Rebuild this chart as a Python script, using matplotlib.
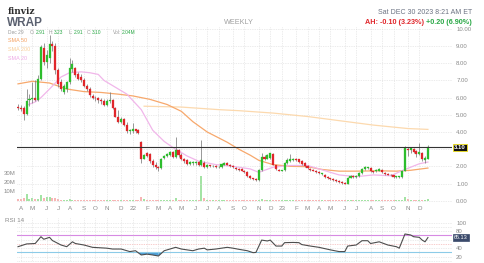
import numpy as np
import pandas as pd
import matplotlib
matplotlib.use("Agg")
import matplotlib.pyplot as plt

plt.rcParams["font.family"] = ["Liberation Sans", "DejaVu Sans"]

# weekly candles, first week starts 2021-03-29
start_week = "2021-03-29"
opens = [5.45, 5.4, 5.4, 5.05, 5.85, 5.9, 5.95, 5.85, 7.1, 8.9, 8.1, 8.3, 9.1, 9.0, 7.6, 6.9,
         6.35, 6.5, 6.9, 7.65, 7.7, 7.4, 7.2, 7.05, 6.7, 6.5, 6.1, 6.0, 5.95, 5.85, 5.8, 5.55,
         5.8, 5.85, 5.4, 4.9, 4.6, 4.75, 4.4, 4.05, 4.05, 4.15, 4.1, 3.4, 2.45, 2.75, 2.7, 2.3,
         2.1, 1.95, 1.9, 2.5, 2.6, 2.65, 2.85, 2.55, 2.95, 2.65, 2.45, 2.35, 2.15, 2.2, 2.2, 2.25,
         2.05, 2.2, 1.95, 2.05, 2.0, 2.0, 1.95, 1.95, 2.1, 2.2, 2.1, 2.0, 1.9, 1.85, 1.85, 1.75,
         1.65, 1.45, 1.3, 1.25, 1.2, 1.8, 2.55, 2.45, 2.5, 2.7, 2.05, 1.8, 1.75, 1.8, 2.2, 2.3,
         2.35, 2.45, 2.4, 2.3, 2.2, 2.0, 1.85, 1.8, 1.75, 1.65, 1.55, 1.5, 1.4, 1.3, 1.25, 1.2,
         1.15, 1.08, 1.05, 1.0, 1.35, 1.45, 1.4, 1.45, 1.6, 1.85, 1.9, 1.9, 1.7, 1.7, 1.75, 1.8,
         1.62, 1.55, 1.5, 1.48, 1.38, 1.4, 1.38, 1.75, 3.0, 2.95, 3.0, 2.9, 2.7, 2.8, 2.35, 2.45]
highs = [5.6, 5.55, 5.5, 6.5, 6.2, 6.9, 7.0, 7.3, 9.05, 9.2, 8.8, 9.65, 9.3, 9.2, 7.7, 7.1,
         6.8, 6.95, 8.3, 8.2, 7.8, 7.5, 7.35, 7.15, 6.8, 6.6, 6.2, 6.1, 6.05, 5.95, 5.9, 5.9,
         6.3, 5.9, 5.45, 5.3, 4.85, 4.8, 4.6, 4.2, 4.5, 4.2, 4.15, 3.45, 2.7, 2.85, 2.75, 2.4,
         2.25, 2.0, 2.5, 2.65, 2.8, 2.9, 2.9, 3.7, 3.0, 2.75, 2.5, 2.4, 2.3, 2.3, 2.3, 2.3,
         3.55, 2.3, 2.15, 2.1, 2.05, 2.05, 2.0, 2.2, 2.25, 2.25, 2.15, 2.05, 1.95, 1.9, 1.9, 1.8,
         1.7, 1.5, 1.35, 1.3, 1.85, 2.75, 2.65, 2.7, 2.8, 2.75, 2.1, 1.85, 1.8, 2.25, 2.5, 2.7,
         2.5, 2.5, 2.45, 2.35, 2.25, 2.05, 1.9, 1.85, 1.8, 1.7, 1.6, 1.55, 1.45, 1.35, 1.3, 1.25,
         1.2, 1.12, 1.1, 1.4, 1.5, 1.5, 1.5, 1.65, 1.9, 2.0, 1.95, 1.95, 1.75, 1.85, 1.9, 1.85,
         1.68, 1.6, 1.55, 1.5, 1.45, 1.45, 1.8, 3.2, 3.15, 3.1, 3.05, 2.95, 3.38, 2.85, 2.6, 3.23]
lows = [5.3, 5.2, 4.7, 5.0, 5.5, 5.7, 5.8, 5.8, 7.0, 7.9, 7.7, 8.0, 8.7, 7.4, 6.6, 6.4,
        6.2, 6.3, 6.8, 7.5, 7.2, 7.0, 6.9, 6.6, 6.4, 6.05, 5.9, 5.8, 5.7, 5.6, 5.5, 5.5,
        5.7, 5.35, 4.85, 4.5, 4.55, 4.35, 3.95, 3.9, 3.95, 3.95, 3.9, 2.2, 2.4, 2.55, 2.2, 1.95,
        1.85, 1.7, 1.85, 2.45, 2.55, 2.6, 2.5, 2.5, 2.55, 2.35, 2.2, 2.05, 2.05, 2.1, 2.1, 2.0,
        2.0, 1.9, 1.9, 1.95, 1.95, 1.9, 1.9, 1.9, 2.05, 2.05, 1.95, 1.9, 1.8, 1.75, 1.7, 1.6,
        1.4, 1.25, 1.2, 1.15, 1.15, 1.75, 2.35, 2.4, 2.45, 2.05, 1.8, 1.7, 1.7, 1.75, 2.15, 2.25,
        2.3, 2.3, 2.2, 2.1, 1.95, 1.85, 1.75, 1.7, 1.6, 1.55, 1.5, 1.35, 1.25, 1.2, 1.15, 1.1,
        1.05, 1.0, 0.97, 0.97, 1.3, 1.35, 1.35, 1.4, 1.55, 1.8, 1.85, 1.65, 1.6, 1.65, 1.7, 1.6,
        1.5, 1.48, 1.42, 1.35, 1.32, 1.33, 1.35, 1.7, 2.6, 2.75, 2.8, 2.55, 2.65, 2.3, 2.2, 2.4]
closes = [5.4, 5.35, 5.05, 5.8, 5.9, 5.95, 5.85, 7.1, 8.95, 8.1, 8.5, 9.1, 9.0, 7.6, 6.8, 6.5,
          6.7, 6.9, 7.75, 7.95, 7.3, 7.1, 7.0, 6.7, 6.5, 6.15, 6.0, 5.95, 5.85, 5.8, 5.55, 5.8,
          5.85, 5.4, 4.9, 4.6, 4.75, 4.4, 4.05, 4.1, 4.15, 4.05, 3.95, 2.4, 2.65, 2.6, 2.3, 2.05,
          1.95, 1.9, 2.45, 2.6, 2.7, 2.85, 2.55, 2.95, 2.65, 2.45, 2.3, 2.15, 2.25, 2.2, 2.25, 2.1,
          2.35, 1.95, 2.05, 2.0, 2.0, 1.95, 1.95, 2.15, 2.2, 2.1, 2.0, 1.95, 1.85, 1.8, 1.75, 1.65,
          1.45, 1.3, 1.25, 1.2, 1.8, 2.55, 2.4, 2.65, 2.75, 2.1, 1.85, 1.75, 1.75, 2.2, 2.35, 2.4,
          2.45, 2.35, 2.25, 2.15, 2.0, 1.9, 1.8, 1.75, 1.65, 1.6, 1.55, 1.4, 1.3, 1.25, 1.2, 1.15,
          1.08, 1.05, 1.0, 1.35, 1.45, 1.4, 1.42, 1.6, 1.85, 1.95, 1.9, 1.7, 1.65, 1.8, 1.85, 1.65,
          1.58, 1.52, 1.48, 1.38, 1.4, 1.42, 1.75, 3.05, 2.95, 3.05, 2.85, 2.7, 2.85, 2.4, 2.5, 3.1]
volume_m = [1.5, 2.0, 2.5, 7.0, 2.0, 3.0, 1.5, 2.0, 6.0, 3.0, 4.0, 4.5, 3.0, 2.5, 1.5, 1.2,
            1.0, 1.0, 1.5, 1.2, 0.9, 0.8, 0.8, 0.9, 0.8, 0.7, 0.6, 0.6, 0.6, 0.5, 0.6, 0.6,
            0.7, 0.8, 0.9, 1.0, 0.8, 1.0, 1.2, 0.7, 0.8, 0.6, 0.7, 4.0, 1.5, 1.0, 1.0, 1.2,
            1.0, 1.0, 1.2, 0.8, 0.7, 0.8, 0.9, 3.0, 1.2, 1.0, 0.9, 0.8, 0.7, 0.6, 0.6, 0.7,
            27.0, 2.5, 1.0, 0.6, 0.5, 0.5, 0.5, 0.8, 0.7, 0.6, 0.5, 0.5, 0.5, 0.5, 0.6, 0.6,
            0.8, 0.8, 0.6, 0.6, 1.2, 1.5, 0.8, 0.7, 0.8, 0.9, 0.7, 0.5, 0.5, 0.8, 0.7, 0.8,
            0.6, 0.5, 0.5, 0.5, 0.6, 0.5, 0.5, 0.5, 0.5, 0.4, 0.4, 0.5, 0.5, 0.4, 0.4, 0.4,
            0.5, 0.4, 0.5, 0.9, 0.7, 0.5, 0.5, 0.6, 0.8, 0.7, 0.5, 0.5, 0.4, 0.5, 0.5, 0.5,
            0.4, 0.4, 0.4, 0.5, 0.4, 0.5, 1.0, 4.0, 2.0, 1.2, 1.0, 1.2, 1.0, 1.0, 0.8, 2.0]

# moving averages read at selected weeks
sma50_wk = [0, 5, 11, 17, 23, 29, 35, 40, 46, 52, 57, 61, 66, 73, 77, 81, 84, 89, 95, 101,
            106, 112, 118, 126, 132, 137, 143]
sma50 = [6.8, 6.95, 6.85, 6.5, 6.35, 6.3, 6.2, 6.1, 5.9, 5.6, 5.2, 4.6, 4.0, 3.4, 3.0, 2.65,
         2.35, 2.1, 2.0, 1.98, 1.82, 1.72, 1.72, 1.74, 1.72, 1.77, 1.9]
sma20_wk = [3, 6, 8, 11, 15, 18, 22, 25, 28, 30, 34, 38, 43, 47, 51, 54, 59, 63, 69, 75,
            81, 84, 89, 95, 101, 106, 112, 118, 124, 130, 134, 140, 143]
sma20 = [5.55, 5.75, 6.0, 6.5, 7.2, 7.45, 7.5, 7.45, 7.35, 7.0, 6.6, 6.2, 5.3, 4.1, 3.45, 3.1,
         2.6, 2.3, 2.1, 2.0, 1.85, 1.65, 1.95, 2.05, 2.05, 1.8, 1.5, 1.4, 1.5, 1.45, 1.75, 2.15, 2.25]
sma200_wk = [44, 57, 70, 77, 89, 101, 112, 124, 136, 143]
sma200 = [5.5, 5.45, 5.3, 5.24, 5.1, 4.9, 4.66, 4.4, 4.2, 4.15]

rsi_wk = [0, 3, 6, 8, 9, 11, 12, 15, 17, 19, 20, 23, 26, 31, 33, 36, 39, 41, 43, 45, 47, 49,
          51, 53, 55, 57, 59, 61, 63, 65, 66, 69, 73, 75, 77, 80, 82, 83, 85, 87, 88, 90, 92,
          93, 96, 98, 99, 102, 105, 109, 112, 114, 115, 118, 120, 122, 123, 126, 129, 132,
          133, 135, 137, 138, 140, 141, 142, 143]
rsi = [43.5, 50, 51, 67, 61, 65.5, 58, 47.5, 43.5, 55, 51, 47.5, 42, 40, 38, 38, 32, 34, 24,
       26, 24, 21.6, 34, 38, 42, 38, 36, 34, 38, 40, 36, 38, 42, 40, 37.4, 34, 29.5, 30, 59,
       57, 59, 45, 45, 53, 53.5, 53, 48.5, 45, 42, 36, 32, 32, 45, 47.5, 57.6, 57.6, 51, 55,
       47.5, 43.5, 40, 73.4, 71, 67, 65.5, 59, 55, 65]

# ---------------------------------------------------------------- layout
W, H = 485, 263
fig = plt.figure(figsize=(W / 100, H / 100), dpi=100)
fig.patch.set_facecolor("white")


def fx(x):
    return x / W


def fy(y):
    return 1 - y / H


GRID = "#d9d9d9"
TICK = "#8a8a8a"
ax = fig.add_axes([fx(17), fy(203), fx(435), 176 / H])
axv = ax.twinx()
axr = fig.add_axes([fx(17), fy(262), fx(435), 44 / H], sharex=ax)

idx = np.arange(len(closes))
o = np.array(opens); c = np.array(closes); h = np.array(highs); l = np.array(lows)
up = c >= o
col = np.where(up, "#2dbd2d", "#e0262b")

# volume behind candles
axv.bar(idx, volume_m, width=0.7, color=np.where(up, "#8edc8e", "#f5a3a3"), alpha=0.8, zorder=1)
axv.set_ylim(-2.46, 186.2)
axv.yaxis.set_ticks_position("left")
axv.set_yticks([10, 20, 30])
axv.set_yticklabels(["10M", "20M", "30M"])
axv.tick_params(axis="y", length=0, pad=1, labelsize=4.3, labelcolor=TICK)
ax.set_zorder(axv.get_zorder() + 1)
ax.patch.set_visible(False)

# candles
ax.vlines(idx, l, h, color="#7d7d7d", lw=0.55, zorder=3)
body = np.maximum(np.abs(c - o), 0.04)
ax.bar(idx, body, bottom=np.minimum(o, c), width=0.72, color=col,
       edgecolor=col, lw=0.2, zorder=4)

ax.plot(sma200_wk, sma200, color="#fcd9ae", lw=0.9, zorder=2)
ax.plot(sma50_wk, sma50, color="#f7a86c", lw=0.9, zorder=2)
ax.plot(sma20_wk, sma20, color="#f1b6ea", lw=0.9, zorder=2)

last = closes[-1]
ax.axhline(last, color="#333333", lw=0.8, zorder=5)

ax.set_ylim(-0.134, 10.11)
ax.set_xlim(-0.35, 151.4)
ax.yaxis.tick_right()
ax.set_yticks(range(0, 11))
# the 3.00 label sits under the last-price box
ax.set_yticklabels(["" if v == 3 else "%.2f" % v for v in range(0, 11)])
ax.tick_params(axis="y", length=0, pad=3, labelsize=4.3, labelcolor=TICK)
ax.grid(True, color=GRID, lw=0.5, linestyle=(0, (1, 1.5)))
ax.text(1.005, last, "%.2f" % last, transform=ax.get_yaxis_transform(), ha="left",
        va="center", fontsize=4.3, color="white", fontweight="bold", zorder=6,
        bbox=dict(boxstyle="square,pad=0.15", fc="#111111", ec="#f2e21b", lw=0.6))

# month ticks
dates = pd.date_range(start_week, periods=len(closes), freq="W-MON")
tick_pos, tick_lab = [], []
for i in range(1, len(dates)):
    if dates[i].month != dates[i - 1].month:
        tick_pos.append(i)
        d = dates[i]
        tick_lab.append(str(d.year)[2:] if d.month == 1 else d.strftime("%b")[0])
ax.set_xticks(tick_pos)
ax.set_xticklabels(tick_lab)
ax.tick_params(axis="x", length=0, pad=2, labelsize=4.5, labelcolor=TICK)
for a in (ax, axv, axr):
    for s in a.spines.values():
        s.set_visible(False)

# RSI panel
rsi_w = np.array(rsi_wk); rsi_v = np.array(rsi)
axr.set_ylim(7.5, 111)
for lev in range(10, 101, 10):
    if lev in (30, 50, 70):
        continue
    axr.axhline(lev, color=GRID, lw=0.5, linestyle=(0, (1, 1.5)))
axr.axhline(50, color="#f29a9a", lw=0.5, linestyle=(0, (1, 1.5)))
axr.axhline(70, color="#d78ae3", lw=0.8)
axr.axhline(30, color="#8ccbe8", lw=0.8)
for p in tick_pos:
    axr.axvline(p, color=GRID, lw=0.5, linestyle=(0, (1, 1.5)))
axr.fill_between(rsi_w, rsi_v, 30, where=rsi_v < 30, interpolate=True, color="#4f9fd6", lw=0)
axr.fill_between(rsi_w, rsi_v, 70, where=rsi_v > 70, interpolate=True, color="#f0c4f3", lw=0)
axr.plot(rsi_w, rsi_v, color="#4d4d4d", lw=0.8)
axr.yaxis.tick_right()
axr.set_yticks([20, 40, 80, 100])
axr.tick_params(axis="y", length=0, pad=3, labelsize=4.3, labelcolor=TICK)
axr.tick_params(axis="x", length=0, labelbottom=False)
axr.grid(False)
axr.patch.set_visible(False)
axr.text(1.005, rsi[-1], "65.13", transform=axr.get_yaxis_transform(), ha="left",
         va="center", fontsize=4.0, color="white", zorder=6,
         bbox=dict(boxstyle="square,pad=0.15", fc="#3b4a6b", ec="#3b4a6b", lw=0.5))

# header texts
fig.text(fx(8), fy(12), "finviz", fontsize=6.5, fontweight="bold", color="#2b2b2b",
         va="center", family=["DejaVu Serif"])
fig.text(fx(7), fy(22.5), "WRAP", fontsize=8.5, fontweight="bold", color="#5b6170", va="center")
fig.text(fx(224), fy(22), "WEEKLY", fontsize=5.2, color="#a0a0a0", va="center")
fig.text(fx(472), fy(12), "Sat DEC 30 2023 8:21 AM ET", fontsize=5.0, color="#6c7383",
         va="center", ha="right")
fig.text(fx(424), fy(22), "AH: -0.10 (3.23%)", fontsize=5.2, color="#e0262b",
         va="center", ha="right", fontweight="bold")
fig.text(fx(472), fy(22), "+0.20 (6.90%)", fontsize=5.2, color="#2aa846",
         va="center", ha="right", fontweight="bold")

# OHLC row: label in grey, value in green right after it
row = [("Dec 29", "", 8), ("O:", "2.91", 30), ("H:", "3.23", 49), ("L:", "2.91", 69),
       ("C:", "3.10", 87), ("Vol:", "2.04M", 113)]
for lab, val, x0 in row:
    fig.text(fx(x0), fy(33), lab, fontsize=3.5, color="#9a9a9a", va="center")
    if val:
        off = {"O:": 5.5, "H:": 5.3, "L:": 4.5, "C:": 5.3, "Vol:": 8.5}[lab]
        fig.text(fx(x0 + off), fy(33), val, fontsize=3.5, color="#2aa846", va="center")

fig.text(fx(8), fy(41), "SMA 50", fontsize=3.9, color="#f5a060", va="center")
fig.text(fx(8), fy(49.5), "SMA 200", fontsize=3.9, color="#f9cf9a", va="center")
fig.text(fx(8), fy(58), "SMA 20", fontsize=3.9, color="#eeaae6", va="center")
fig.text(fx(5), fy(221), "RSI 14", fontsize=4.5, color="#8a8a8a", va="center")

fig.savefig("out.png", dpi=100, facecolor="white")
